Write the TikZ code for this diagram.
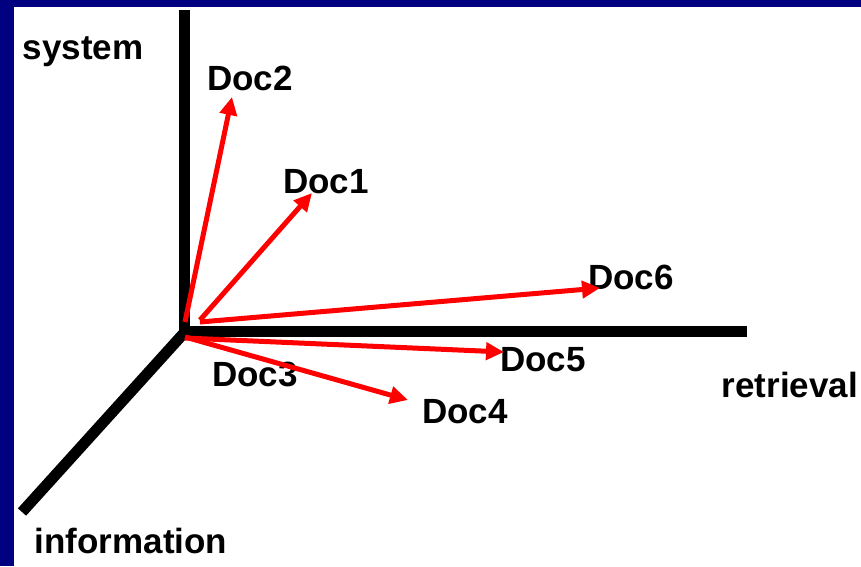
\documentclass[tikz,border=0pt]{standalone}
\usepackage{fontspec}
\setmainfont{Liberation Sans}
\usetikzlibrary{arrows.meta}

\definecolor{framenavy}{RGB}{0,0,128}
\definecolor{vecred}{RGB}{255,0,0}

\tikzset{
  axis/.style={line width=11pt},
  vec/.style={vecred, line width=5pt, -{Triangle[length=18pt,width=17pt]}},
  lbl/.style={inner sep=0pt, font=\fontsize{35}{40}\selectfont\bfseries}
}

\begin{document}
\begin{tikzpicture}[x=1pt,y=-1pt] % 1 unit = 1 px of the slide
\fill[framenavy] (0,0) rectangle (861,566);
\fill[white] (14,7) rectangle (861,566);
\useasboundingbox (0,0) rectangle (861,566);

% axes
\coordinate (O) at (184,333);
\coordinate (sysend) at (184,10);
\coordinate (retend) at (747,331);
\coordinate (infend) at (22,512);
\draw[axis] (sysend) -- (O);
\draw[axis] (O |- retend) -- (retend);
\draw[axis] (O) -- (infend);

\node[lbl] (system) at (83,52) {system};
\node[lbl] (retrieval) at (790,385) {retrieval};
\node[lbl] (information) at (131,541) {information};

% documents
\node[lbl] (doc1) at (326,182) {Doc1};
\node[lbl] (doc2) at (250,78) {Doc2};
\node[lbl] (doc3) at (255,374) {Doc3};
\node[lbl] (doc4) at (465,412) {Doc4};
\node[lbl] (doc5) at (543,360) {Doc5};
\node[lbl] (doc6) at (631,277) {Doc6};

% vector tails and tips
\coordinate (tail2) at (185,322);
\coordinate (tail1) at (200,320);
\coordinate (tail6) at (200,322);
\coordinate (tail5) at (185,338);
\coordinate (tail4) at (185,337);
\coordinate (tip1) at (312,193);
\coordinate (tip2) at (232,97);
\coordinate (tip4) at (408,400);
\coordinate (tip5) at (504,352);
\coordinate (tip6) at (600,288);

\draw[vec] (tail2) -- (tip2);
\draw[vec] (tail1) -- (tip1);
\draw[vec] (tail6) -- (tip6);
\draw[vec] (tail5) -- (tip5);
\draw[vec] (tail4) -- (tip4);
\end{tikzpicture}
\end{document}
